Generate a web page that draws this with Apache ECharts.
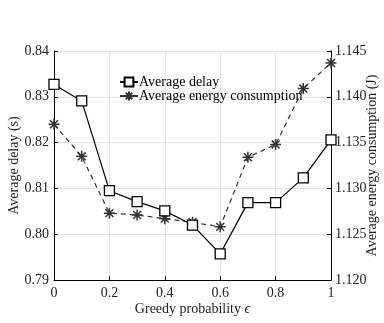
<!DOCTYPE html>
<html>
<head>
<meta charset="utf-8">
<script src="https://cdn.jsdelivr.net/npm/echarts@6/dist/echarts.min.js"></script>
<style>
  html, body { margin: 0; padding: 0; background: #fff; }
  #chart { width: 384px; height: 323px; }
</style>
</head>
<body>
<div id="chart"></div>
<script>
// greedy probability values on x
const epsilons = [0, 0.1, 0.2, 0.3, 0.4, 0.5, 0.6, 0.7, 0.8, 0.9, 1];
// average delay (s), left axis
const avgDelay = [0.8327, 0.8291, 0.8095, 0.8071, 0.8051, 0.8020, 0.7957, 0.8069, 0.8069, 0.8123, 0.8206];
// average energy consumption (J), right axis
const avgEnergy = [1.1370, 1.1335, 1.1273, 1.1271, 1.1267, 1.1263, 1.1258, 1.1334, 1.1348, 1.1409, 1.1437];

const font = 'Liberation Serif';
const starPath = 'path://M0,-5L0,5M-5,0L5,0M-3.6,-3.6L3.6,3.6M-3.6,3.6L3.6,-3.6';

const chart = echarts.init(document.getElementById('chart'));

const option = {
  animation: false,
  textStyle: { fontFamily: font },
  grid: { left: 54, right: 53, top: 51, bottom: 43, outerBoundsMode: 'none', containLabel: false },
  legend: {
    left: 114,
    top: 70,
    orient: 'vertical',
    itemWidth: 18,
    itemHeight: 11,
    itemGap: 0,
    textStyle: { fontFamily: font, fontSize: 14, color: '#000', padding: [0, 0, 0, -4] },
    data: [
      { name: 'Average delay', lineStyle: { type: 'solid' } },
      { name: 'Average energy consumption', lineStyle: { type: 'solid' } }
    ]
  },
  xAxis: {
    type: 'value',
    min: 0, max: 1, interval: 0.2,
    name: 'Greedy probability {i|ϵ}',
    nameLocation: 'middle',
    nameGap: 22,
    nameMoveOverlap: false,
    nameTextStyle: {
      fontFamily: font, fontSize: 14, color: '#222',
      rich: { i: { fontFamily: font, fontStyle: 'italic', fontSize: 14 } }
    },
    axisLine: { lineStyle: { color: '#000', width: 1 } },
    axisTick: { inside: true, length: 4, lineStyle: { color: '#000' } },
    axisLabel: {
      fontFamily: font, fontSize: 14, color: '#222', margin: 6,
      formatter: v => (v === 0 || v === 1) ? String(v) : v.toFixed(1)
    },
    splitLine: { show: true, lineStyle: { color: '#e3e3e3', width: 1 } }
  },
  yAxis: [
    {
      type: 'value',
      min: 0.79, max: 0.84, interval: 0.01,
      name: 'Average delay (s)',
      nameLocation: 'middle',
      nameGap: 33,
      nameMoveOverlap: false,
      nameTextStyle: { fontFamily: font, fontSize: 14, color: '#222' },
      axisLine: { show: true, lineStyle: { color: '#000' } },
      axisTick: { show: true, inside: true, length: 4, lineStyle: { color: '#000' } },
      axisLabel: { fontFamily: font, fontSize: 14, color: '#222', margin: 5,
        formatter: v => v.toFixed(2) },
      splitLine: { show: true, lineStyle: { color: '#e3e3e3', width: 1 } }
    },
    {
      type: 'value',
      min: 1.12, max: 1.145, interval: 0.005,
      name: 'Average energy consumption (J)',
      nameLocation: 'middle',
      nameGap: 34,
      nameRotate: 90,
      nameMoveOverlap: false,
      nameTextStyle: { fontFamily: font, fontSize: 14, color: '#222' },
      axisLine: { show: true, lineStyle: { color: '#000' } },
      axisTick: { show: true, inside: true, length: 4, lineStyle: { color: '#000' } },
      axisLabel: { fontFamily: font, fontSize: 14, color: '#222', margin: 4,
        formatter: v => v.toFixed(3) },
      splitLine: { show: false }
    }
  ],
  series: [
    {
      name: 'Average delay',
      type: 'line',
      yAxisIndex: 0,
      data: epsilons.map((x, i) => [x, avgDelay[i]]),
      symbol: 'rect',
      symbolSize: 10,
      showAllSymbol: true,
      lineStyle: { color: '#000', width: 1.2 },
      itemStyle: { color: '#fff', borderColor: '#000', borderWidth: 1.3 },
      z: 3
    },
    {
      name: 'Average energy consumption',
      type: 'line',
      yAxisIndex: 1,
      data: epsilons.map((x, i) => [x, avgEnergy[i]]),
      symbol: starPath,
      symbolSize: 11,
      showAllSymbol: true,
      lineStyle: { color: '#333', width: 1.2, type: [5, 4] },
      itemStyle: { color: '#333', borderColor: '#333', borderWidth: 1.5 },
      z: 2
    }
  ]
};

chart.setOption(option);
</script>
</body>
</html>
